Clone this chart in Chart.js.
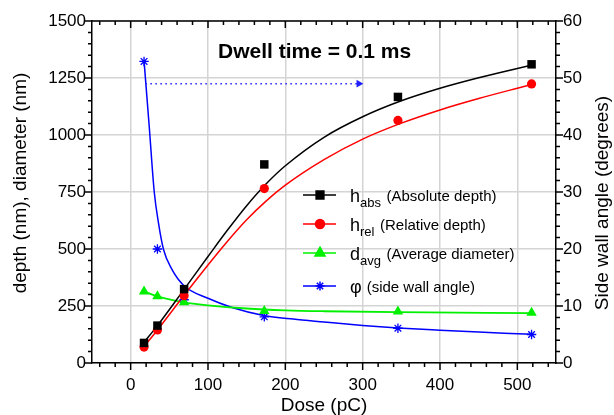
<!DOCTYPE html>
<html>
<head>
<meta charset="utf-8">
<script src="https://cdn.jsdelivr.net/npm/chart.js@4.4.0/dist/chart.umd.min.js"></script>
<style>
html,body{margin:0;padding:0;background:#fff;}
#wrap{width:614px;height:415px;}
</style>
</head>
<body>
<div id="wrap"><canvas id="myChart" width="614" height="415"></canvas></div>
<script>
// measured points
var dose=[17.3,34.6,69.1,172.8,345.6,518.4];
var hAbs=[88,164,324,871,1167,1310];
var hRel=[70,145,295,765,1064,1224];
var dAvg=[314,293,266,228,226,220];
var phi=[52.9,20.0,11.1,8.1,6.1,5.0];

// fitted curves
var absFitX=[17.3,34.6,69.1,100,125,150,175,200,250,300,350,400,450,500,518.4];
var absFitY=[91,164,323,467,582,690,785,865,990,1080,1150,1205,1251,1292,1306];
var relFitX=[17.3,34.6,69.1,100,125,150,175,200,250,300,350,400,450,500,518.4];
var relFitY=[72,145,297,430,533,628,710,780,892,982,1052,1110,1160,1205,1221];
var avgFitX=[17.3,34.6,69.1,100,150,200,250,345.6,518.4];
var avgFitY=[314,292,266,253,239,231,227,223,219];
var phiFitX=[17.3,24,30.5,35.8,42.3,53,68.6,100,131,172,210,250,300,345.6,400,450,500,518.4];
var phiFitY=[53,41.5,30,24.7,20,16.5,13.6,11.35,9.75,8.35,7.7,7.2,6.6,6.15,5.75,5.42,5.15,5.05];

// dotted arrow (right axis)
var arrowX=[19,295];
var arrowY=[49,49];

var xTicks=[0,100,200,300,400,500];
var yTicks=[0,250,500,750,1000,1250,1500];
var y2Ticks=[0,10,20,30,40,50,60];

var FONT='"Liberation Sans", Arial, Helvetica, sans-serif';
Chart.defaults.font.family=FONT;
Chart.defaults.color='#000';

var GREEN='#00f000';

function pts(xs,ys){
  return xs.map(function(v,i){return {x:v,y:ys[i]};});
}

var legendItems=[
  {main:'h',sub:'abs',text:'(Absolute depth)',color:'#000000',style:'rect',r:5.5},
  {main:'h',sub:'rel',text:'(Relative depth)',color:'#ff0000',style:'circle',r:4.5},
  {main:'d',sub:'avg',text:'(Average diameter)',color:GREEN,style:'triangle',r:5.8},
  {main:'\u03c6',sub:'',text:'(side wall angle)',color:'#0000ff',style:'star',r:4.5}
];

function vText(ctx,txt,cx,cy){
  ctx.save();
  ctx.translate(cx,cy);
  ctx.rotate(-Math.PI/2);
  ctx.textAlign='center';
  ctx.textBaseline='middle';
  ctx.fillText(txt,0,0);
  ctx.restore();
}

var extras={
  id:'extras',
  afterDraw:function(chart){
    var ctx=chart.ctx, a=chart.chartArea;
    var x=chart.scales.x, y=chart.scales.y, y2=chart.scales.y2;
    var v, p, len;
    ctx.save();
    ctx.strokeStyle='#000';
    ctx.lineWidth=1.5;
    ctx.beginPath();
    ctx.moveTo(a.left-1,a.top);ctx.lineTo(a.right+1,a.top);
    for(v=-40;v<=540;v+=20){
      p=x.getPixelForValue(v);
      len=(v%100===0)?7:4;
      ctx.moveTo(p,a.bottom);ctx.lineTo(p,a.bottom+len);
      ctx.moveTo(p,a.top);ctx.lineTo(p,a.top+len);
    }
    for(v=0;v<=1500;v+=50){
      p=y.getPixelForValue(v);
      len=(v%250===0)?7:4;
      ctx.moveTo(a.left,p);ctx.lineTo(a.left-len,p);
    }
    for(v=0;v<=60;v+=2){
      p=y2.getPixelForValue(v);
      len=(v%10===0)?7:4;
      ctx.moveTo(a.right,p);ctx.lineTo(a.right+len,p);
    }
    ctx.stroke();

    // axis titles
    ctx.fillStyle='#000';
    ctx.font='19px '+FONT;
    vText(ctx,'depth (nm), diameter (nm)',21,183);
    vText(ctx,'Side wall angle (degrees)',603,203);

    // title inside plot
    ctx.font='bold 21px '+FONT;
    ctx.textBaseline='alphabetic';
    ctx.textAlign='left';
    ctx.fillText('Dwell time = 0.1 ms',a.left+126,a.top+37);

    // legend
    var rows=[174,203,232,265];
    legendItems.forEach(function(it,i){
      var ly=a.top+rows[i];
      var lx=a.left+211;
      ctx.strokeStyle=it.color;
      ctx.fillStyle=it.color;
      ctx.lineWidth=1.5;
      ctx.beginPath();
      ctx.moveTo(lx,ly);ctx.lineTo(lx+33,ly);
      ctx.stroke();
      Chart.helpers.drawPoint(ctx,{pointStyle:it.style,radius:it.r,borderWidth:1.3,rotation:0},lx+17,ly);
      if(it.style!=='star'){ctx.fill();}
      ctx.fillStyle='#000';
      var tx=a.left+258;
      ctx.font='18px '+FONT;
      ctx.fillText(it.main,tx,ly+6.5);
      tx+=ctx.measureText(it.main).width;
      if(it.sub){
        ctx.font='13px '+FONT;
        ctx.fillText(it.sub,tx,ly+12);
        tx+=ctx.measureText(it.sub).width+5.5;
      }else{
        tx+=5;
      }
      ctx.font='15px '+FONT;
      ctx.fillText(it.text,tx,ly+5.5);
    });
    ctx.restore();
  }
};

new Chart('myChart',{
  type:'scatter',
  data:{
    datasets:[
      {data:pts(dose,hAbs),yAxisID:'y',pointStyle:'rect',pointRadius:6,backgroundColor:'#000',borderColor:'#000',borderWidth:0,showLine:false},
      {data:pts(dose,hRel),yAxisID:'y',pointStyle:'circle',pointRadius:4.6,backgroundColor:'#ff0000',borderColor:'#ff0000',borderWidth:0,showLine:false},
      {data:pts(dose,dAvg),yAxisID:'y',pointStyle:'triangle',pointRadius:6,backgroundColor:GREEN,borderColor:GREEN,borderWidth:0,showLine:false},
      {data:pts(dose,phi),yAxisID:'y2',pointStyle:'star',pointRadius:4.7,backgroundColor:'#0000ff',borderColor:'#0000ff',borderWidth:1.3,showLine:false},
      {data:pts(arrowX,arrowY),yAxisID:'y2',showLine:true,borderColor:'#2020ff',borderWidth:1.5,borderDash:[1.5,3.5],
        pointRadius:[0,4.5],pointStyle:'triangle',pointRotation:90,backgroundColor:'#2020ff',pointBorderWidth:0},
      {data:pts(absFitX,absFitY),yAxisID:'y',showLine:true,pointRadius:0,borderColor:'#000',borderWidth:1.5,cubicInterpolationMode:'monotone'},
      {data:pts(relFitX,relFitY),yAxisID:'y',showLine:true,pointRadius:0,borderColor:'#ff0000',borderWidth:1.5,cubicInterpolationMode:'monotone'},
      {data:pts(avgFitX,avgFitY),yAxisID:'y',showLine:true,pointRadius:0,borderColor:GREEN,borderWidth:1.8,cubicInterpolationMode:'monotone'},
      {data:pts(phiFitX,phiFitY),yAxisID:'y2',showLine:true,pointRadius:0,borderColor:'#0000ff',borderWidth:1.5,cubicInterpolationMode:'monotone'}
    ]
  },
  options:{
    responsive:false,
    animation:false,
    layout:{padding:{top:21,left:0,right:0,bottom:0}},
    plugins:{legend:{display:false},tooltip:{enabled:false}},
    scales:{
      x:{
        type:'linear',min:-50,max:550,
        afterBuildTicks:function(s){s.ticks=xTicks.map(function(v){return {value:v};});},
        afterFit:function(s){s.height=52;},
        ticks:{font:{size:17},padding:12,maxRotation:0,callback:function(v){return String(v);}},
        grid:{color:'#d4d4d4',lineWidth:1.5,drawTicks:false},
        border:{color:'#000',width:1.5},
        title:{display:true,text:'Dose (pC)',font:{size:19,lineHeight:1},padding:{top:0,bottom:0}}
      },
      y:{
        position:'left',min:0,max:1500,
        afterBuildTicks:function(s){s.ticks=yTicks.map(function(v){return {value:v};});},
        afterFit:function(s){s.width=92;},
        ticks:{font:{size:17},padding:6,callback:function(v){return String(v);}},
        grid:{color:'#d4d4d4',lineWidth:1.5,drawTicks:false},
        border:{color:'#000',width:1.5}
      },
      y2:{
        position:'right',min:0,max:60,
        afterBuildTicks:function(s){s.ticks=y2Ticks.map(function(v){return {value:v};});},
        afterFit:function(s){s.width=58;},
        ticks:{font:{size:17},padding:7,callback:function(v){return String(v);}},
        grid:{display:false,drawTicks:false},
        border:{color:'#000',width:1.5}
      }
    }
  },
  plugins:[extras]
});
</script>
</body>
</html>
